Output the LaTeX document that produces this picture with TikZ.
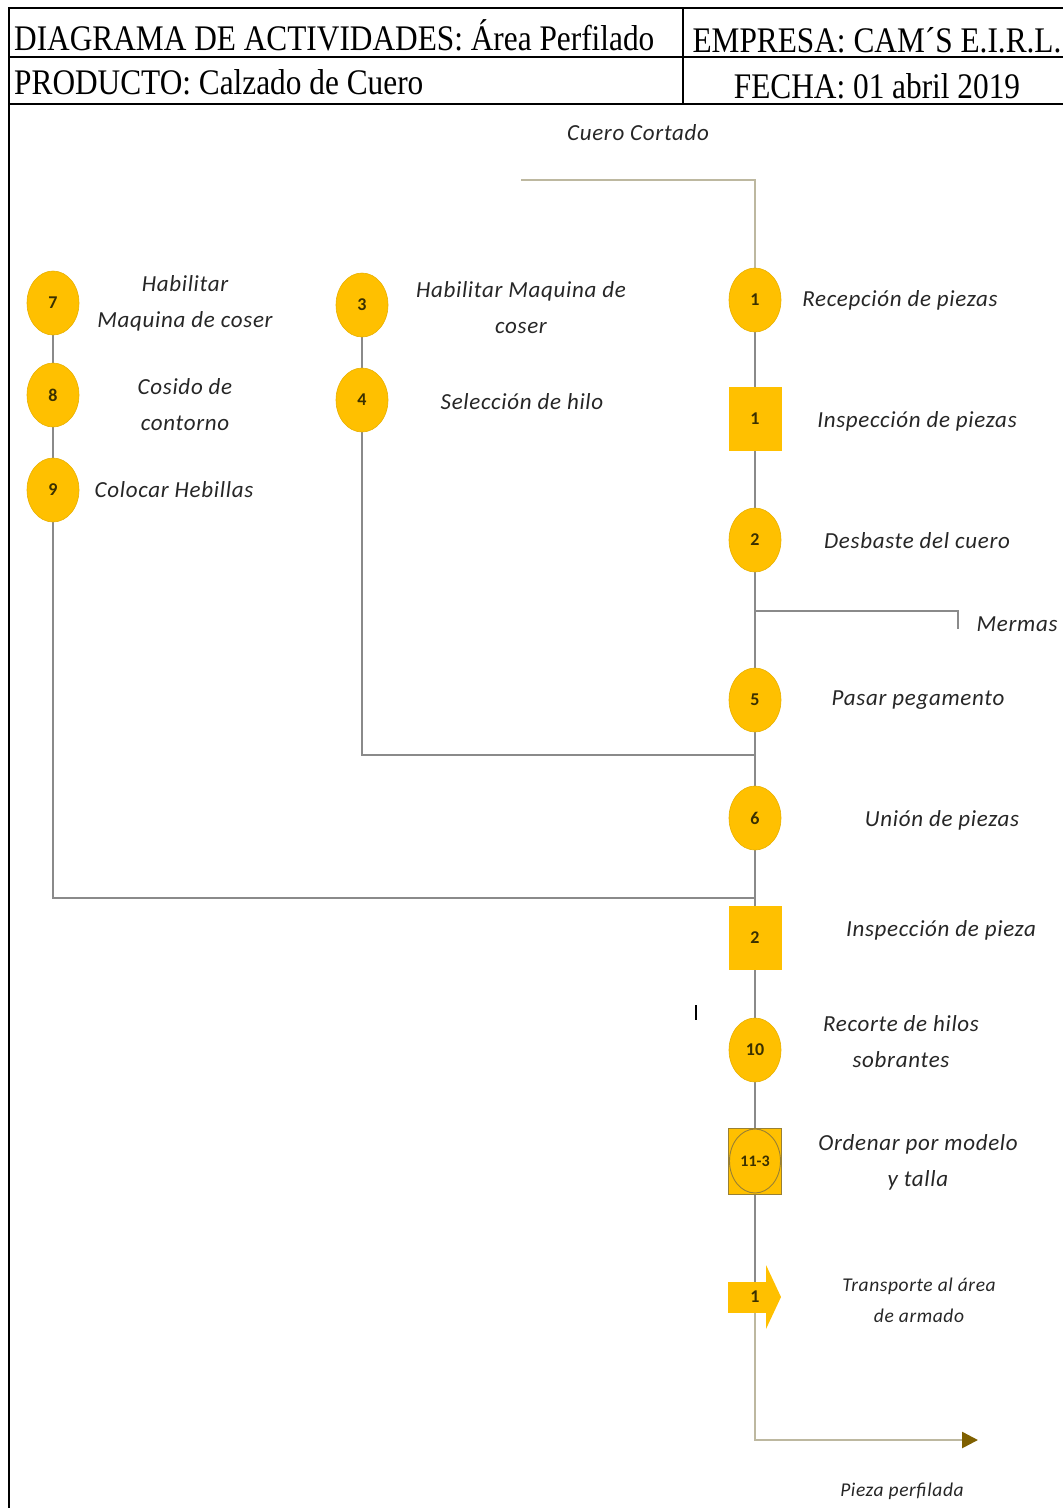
\documentclass[tikz,border=0pt]{standalone}
\usepackage{fontspec}
\setmainfont{Liberation Serif}
\newfontfamily\hdrfont[FakeStretch=0.87]{Liberation Serif}
\newfontfamily\lblfont[LetterSpace=3]{Carlito}
\newfontfamily\numfont{Carlito}
\usetikzlibrary{arrows.meta,shapes.geometric,positioning}
\definecolor{gold}{HTML}{FFC000}
\definecolor{goldedge}{HTML}{E8B000}
\definecolor{flowgray}{HTML}{8A8A8A}
\definecolor{tan}{HTML}{BDB8A0}
\definecolor{olive}{HTML}{7F6000}
\definecolor{numc}{HTML}{3A3000}
\definecolor{txt}{HTML}{262626}
\pgfdeclarelayer{background}
\pgfsetlayers{background,main}
\tikzset{
  hdr/.style={font=\hdrfont\fontsize{36}{38}\selectfont, inner sep=0pt},
  numtxt/.style={font=\numfont\bfseries\fontsize{18}{18}\selectfont, text=numc},
  opcircle/.style={ellipse, fill=gold, draw=goldedge, line width=0.6pt,
    minimum width=52pt, minimum height=64pt, inner sep=0pt, numtxt},
  inspbox/.style={rectangle, fill=gold, draw=none,
    minimum width=53pt, minimum height=64pt, inner sep=0pt, numtxt},
  combobox/.style={rectangle, fill=gold, draw=olive!80, line width=0.9pt,
    minimum width=53pt, minimum height=66pt, inner sep=0pt},
  lbl/.style={font=\lblfont\itshape\fontsize{23}{36}\selectfont, text=txt,
    align=center, inner sep=0pt},
  lblsmall/.style={font=\lblfont\itshape\fontsize{19.5}{31}\selectfont, text=txt,
    align=center, inner sep=0pt},
  flow/.style={draw=flowgray, line width=2.2pt},
  inflow/.style={draw=tan, line width=2.6pt},
}
\begin{document}
\begin{tikzpicture}[x=1pt,y=-1pt]
\useasboundingbox (0,0) rectangle (1063,1508);

% ---- title block ----
\draw[line width=2.6pt] (1063,8) -- (9,8) -- (9,1508);
\draw[line width=2.2pt] (9,57) -- (1063,57);
\draw[line width=2.6pt] (9,104) -- (1063,104);
\draw[line width=1.4pt] (683,8) -- (683,104);
\node[hdr, anchor=west] (title) at (14,35) {DIAGRAMA DE ACTIVIDADES: Área Perfilado};
\node[hdr] (empresa) at (877,40) {EMPRESA: CAM´S E.I.R.L.};
\node[hdr, anchor=west] (producto) at (14,82) {PRODUCTO: Calzado de Cuero};
\node[hdr] (fecha) at (877,86) {FECHA: 01 abril 2019};

% ---- main column ----
\node[lbl] (incoming) at (638,133) {Cuero Cortado};
\coordinate (instart) at (521,180);
\coordinate (incorner) at (755,180);
\node[opcircle] (o1) at (755,300) {1};
\node[inspbox] (i1) at (755,419) {1};
\node[opcircle] (o2) at (755,540) {2};
\coordinate (jm) at (755,611);
\coordinate (mcorner) at (958,611);
\coordinate (mend) at (958,629);
\node[opcircle] (o5) at (755,700) {5};
\coordinate (j4) at (755,755);
\node[opcircle] (o6) at (755,818) {6};
\coordinate (j9) at (755,898);
\node[inspbox] (i2) at (755,938) {2};
\node[opcircle] (o10) at (755,1050) {10};
\node[combobox] (c11) at (755,1161) {};
\draw[draw=olive!80, line width=0.9pt] (c11.center) ellipse [x radius=25.5pt, y radius=32pt];
\node[numtxt, font=\numfont\bfseries\fontsize{16}{16}\selectfont] (c11txt) at (c11.center) {11-3};
% transport symbol
\node[inspbox, minimum width=38pt, minimum height=31pt] (t1) at (747,1297) {};
\fill[gold] (766,1265) -- (781,1297) -- (766,1329) -- cycle;
\node[numtxt] (t1txt) at (755,1297) {1};
\coordinate (outcorner) at (755,1440);
\coordinate (outend) at (978,1440);

% ---- left columns ----
\node[opcircle] (o7) at (53,303) {7};
\node[opcircle] (o8) at (53,395) {8};
\node[opcircle] (o9) at (53,490) {9};
\coordinate (c9) at (53,898);
\node[opcircle] (o3) at (362,305) {3};
\node[opcircle] (o4) at (362,400) {4};
\coordinate (c4) at (362,755);

% ---- connectors ----
\begin{pgfonlayer}{background}
\draw[inflow] (instart) -- (incorner) -- (o1);
\draw[flow] (o1) -- (i1);
\draw[flow] (i1) -- (o2);
\draw[flow] (o2) -- (jm) -- (o5);
\draw[flow] (jm) -- (mcorner) -- (mend);
\draw[flow] (o5) -- (j4) -- (o6);
\draw[flow] (o6) -- (j9) -- (i2);
\draw[flow] (i2) -- (o10);
\draw[flow] (o10) -- (c11);
\draw[flow] (c11) -- (t1txt.center);
\draw[inflow] (t1txt.center) -- (outcorner)
  -- (outend) [arrows={-{Triangle[length=16pt,width=16pt,color=olive]}}];
\draw[flow] (o7) -- (o8);
\draw[flow] (o8) -- (o9);
\draw[flow] (o9) -- (c9) -- (j9);
\draw[flow] (o3) -- (o4);
\draw[flow] (o4) -- (c4) -- (j4);
\end{pgfonlayer}

% ---- labels ----
\node[lbl] (l7) at (185,303) {Habilitar\\Maquina de coser};
\node[lbl] (l8) at (185,405) {Cosido de\\contorno};
\node[lbl] (l9) at (174,490) {Colocar Hebillas};
\node[lbl] (l3) at (521,308) {Habilitar Maquina de\\coser};
\node[lbl] (l4) at (522,402) {Selección de hilo};
\node[lbl] (l1) at (900,300) {Recepción de piezas};
\node[lbl] (li1) at (917,421) {Inspección de piezas};
\node[lbl] (l2) at (917,541) {Desbaste del cuero};
\node[lbl] (lm) at (1017,624) {Mermas};
\node[lbl] (l5) at (918,700) {Pasar pegamento};
\node[lbl] (l6) at (942,820) {Unión de piezas};
\node[lbl] (li2) at (941,930) {Inspección de pieza};
\node[lbl] (l10) at (901,1042) {Recorte de hilos\\sobrantes};
\node[lbl] (l11) at (918,1162) {Ordenar por modelo\\y talla};
\node[lblsmall] (lt1) at (919,1300) {Transporte al área\\de armado};
\node[lblsmall] (lout) at (902,1491) {Pieza perfilada};

% stray cursor mark
\draw[black, line width=1.6pt] (696,1005) -- (696,1020);
\end{tikzpicture}
\end{document}
